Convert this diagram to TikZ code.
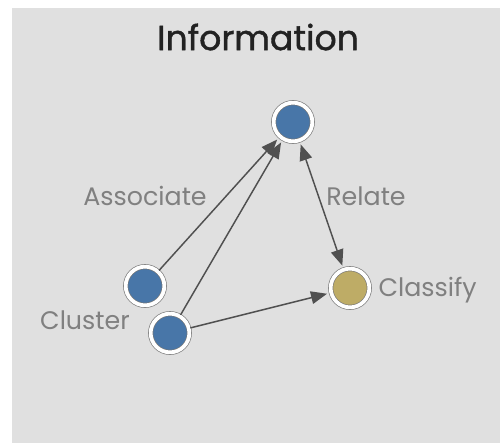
\documentclass[tikz,border=0pt]{standalone}
\usepackage{fontspec}
\setmainfont{Poppins}
\newfontfamily\titlefont{Poppins}[FakeBold=1.2]
\usetikzlibrary{arrows.meta}

\definecolor{bggray}{RGB}{224,224,224}
\definecolor{dotblue}{RGB}{72,118,168}
\definecolor{dotgold}{RGB}{190,172,102}
\definecolor{ringgray}{RGB}{120,120,120}
\definecolor{labelgray}{RGB}{128,128,128}
\definecolor{linkgray}{RGB}{80,80,80}

\tikzset{every picture/.style={line width=0.75pt}}
\tikzset{
  dot/.style={circle, draw=ringgray, line width=0.5pt, double=white, double distance=2.8pt,
    fill=dotblue, minimum size=29pt, inner sep=0pt},
  lbl/.style={text=labelgray, font=\fontsize{19}{21}\selectfont, inner sep=0.75pt},
  link/.style={draw=linkgray, line width=1.1pt, -{Triangle[length=12pt,width=9.5pt]}, shorten >=3pt, shorten <=1pt}
}

\begin{document}
\begin{tikzpicture}[x=0.75pt,y=0.75pt,yscale=-1,xscale=1]
    \useasboundingbox (0,0) rectangle (500,443);

    %Shape: Rectangle [background]
    \fill [bggray] (12,8) rectangle (500,443);

    %Shape: Circles
    \node [dot] (info) at (293,122) {};
    \node [dot] (assoc) at (145,286) {};
    \node [dot] (cluster) at (170,333) {};
    \node [dot, fill=dotgold] (classify) at (350,288) {};

    % Text Node
    \node [inner sep=0.75pt, text={rgb,255:red,34;green,34;blue,34}, font=\titlefont\fontsize{26}{30}\selectfont] (title) at (258,37) {Information};
    % Text Node
    \node [lbl] (assoclbl) at (145,196) {Associate};
    % Text Node
    \node [lbl] (relatelbl) at (366,196) {Relate};
    % Text Node
    \node [lbl] (clusterlbl) at (85,320) {Cluster};
    % Text Node
    \node [lbl, anchor=west] (classifylbl) at (377,290) {Classify};

    %Straight Lines
    \draw [link] (assoc) -- (info);
    \draw [link] (cluster) -- (info);
    \draw [link] (cluster) -- (classify);
    \draw [link, {Triangle[length=12pt,width=9.5pt]}-{Triangle[length=12pt,width=9.5pt]}, shorten <=3pt] (info) -- (classify);

\end{tikzpicture}
\end{document}
